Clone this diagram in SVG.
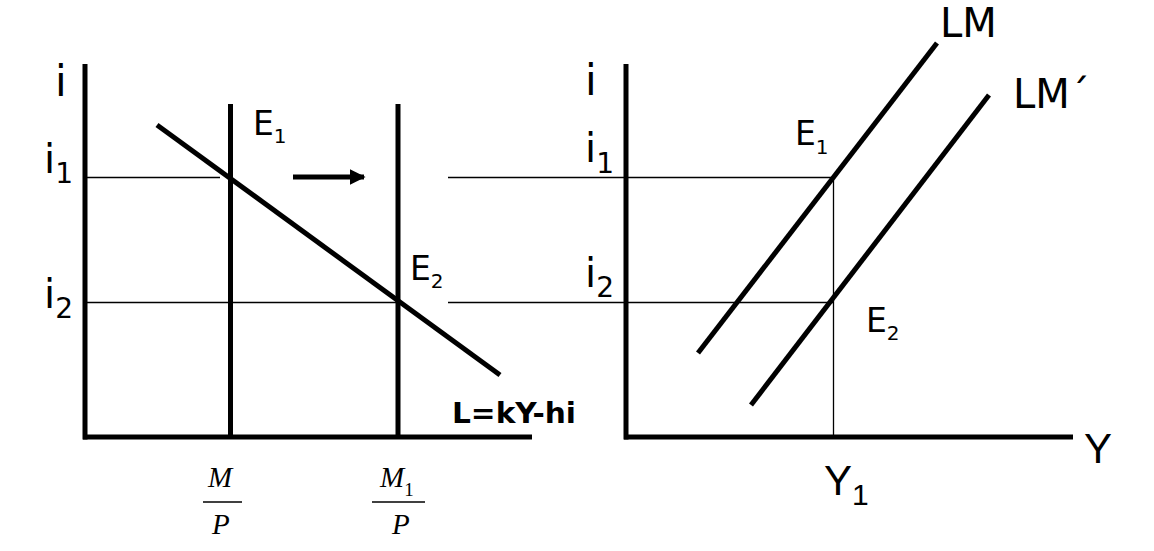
<svg xmlns="http://www.w3.org/2000/svg" width="1154" height="551" viewBox="0 0 1154 551">
<style>
.ax{stroke:#000;stroke-width:5;fill:none}
.thick{stroke:#000;stroke-width:5;fill:none}
.thin{stroke:#000;stroke-width:1.3;fill:none}
.t{font-family:"DejaVu Sans",Verdana,sans-serif;fill:#000}
.a{font-family:"Liberation Sans",Arial,sans-serif;fill:#000}
.tm{font-family:"Liberation Serif","Times New Roman",serif;font-style:italic;fill:#000;font-size:29px}
</style>
<defs>
<marker id="ah" viewBox="0 0 10 10" refX="9" refY="5" markerWidth="3.2" markerHeight="3.4" markerUnits="strokeWidth" orient="auto">
<path d="M0,0 L10,5 L0,10 Z" fill="#000"/>
</marker>
</defs>
<rect width="1154" height="551" fill="#fff"/>
<g id="connectors">
<line class="thin" x1="86" y1="177.5" x2="220" y2="177.5"/>
<line class="thin" x1="86" y1="302.5" x2="400" y2="302.5"/>
<line class="thin" x1="448" y1="177.5" x2="833" y2="177.5"/>
<line class="thin" x1="448" y1="302.5" x2="833" y2="302.5"/>
<line class="thin" x1="833.5" y1="177" x2="833.5" y2="437"/>
<line x1="293" y1="177" x2="364" y2="177" stroke="#000" stroke-width="5" marker-end="url(#ah)"/>
</g>
<g id="left-axes">
<line class="ax" x1="85" y1="64" x2="85" y2="439.5"/>
<line class="ax" x1="83" y1="437" x2="532" y2="437"/>
<text class="t" x="55" y="96" font-size="42">i</text>
</g>
<g id="ms-M-P">
<line class="thick" x1="230.5" y1="104" x2="230.5" y2="437"/>
<text class="tm" x="208" y="487">M</text>
<line x1="203" y1="502" x2="242" y2="502" stroke="#000" stroke-width="1.6"/>
<text class="tm" x="212" y="534">P</text>
</g>
<g id="ms-M1-P">
<line class="thick" x1="398" y1="104" x2="398" y2="437"/>
<text class="tm" x="380" y="487">M<tspan font-size="19" font-style="normal" dy="9">1</tspan></text>
<line x1="372" y1="502" x2="425" y2="502" stroke="#000" stroke-width="1.6"/>
<text class="tm" x="392" y="534">P</text>
</g>
<g id="md-L">
<line class="thick" x1="157" y1="125" x2="500" y2="375"/>
<text class="t" x="452" y="423" font-size="28" font-weight="bold" textLength="124" lengthAdjust="spacingAndGlyphs">L=kY-hi</text>
</g>
<g id="left-labels">
<text class="t" x="44" y="173" font-size="40">i<tspan font-size="28" dy="10">1</tspan></text>
<text class="t" x="44" y="308" font-size="40">i<tspan font-size="28" dy="10">2</tspan></text>
<text class="t" x="253" y="135" font-size="33">E<tspan font-size="20" dy="8">1</tspan></text>
<text class="t" x="410" y="280" font-size="33">E<tspan font-size="20" dy="8">2</tspan></text>
</g>
<g id="right-axes">
<line class="ax" x1="626" y1="64" x2="626" y2="439.5"/>
<line class="ax" x1="624" y1="437" x2="1073" y2="437"/>
<text class="t" x="585" y="95" font-size="42">i</text>
<text class="a" x="1084" y="463" font-size="42">Y</text>
<text class="a" x="824" y="495" font-size="42">Y<tspan font-size="30" dy="10">1</tspan></text>
</g>
<g id="right-labels">
<text class="t" x="585" y="162" font-size="40">i<tspan font-size="28" dy="11">1</tspan></text>
<text class="t" x="585" y="287" font-size="40">i<tspan font-size="28" dy="10">2</tspan></text>
<text class="t" x="795" y="145" font-size="33">E<tspan font-size="20" dy="9">1</tspan></text>
<text class="t" x="866" y="332" font-size="33">E<tspan font-size="20" dy="8">2</tspan></text>
</g>
<g id="LM">
<line class="thick" x1="698" y1="353" x2="937" y2="43"/>
<text class="t" x="940" y="37" font-size="40">LM</text>
</g>
<g id="LM-prime">
<line class="thick" x1="751" y1="405" x2="989" y2="95"/>
<text class="t" x="1013" y="108" font-size="40">LM´</text>
</g>
</svg>
